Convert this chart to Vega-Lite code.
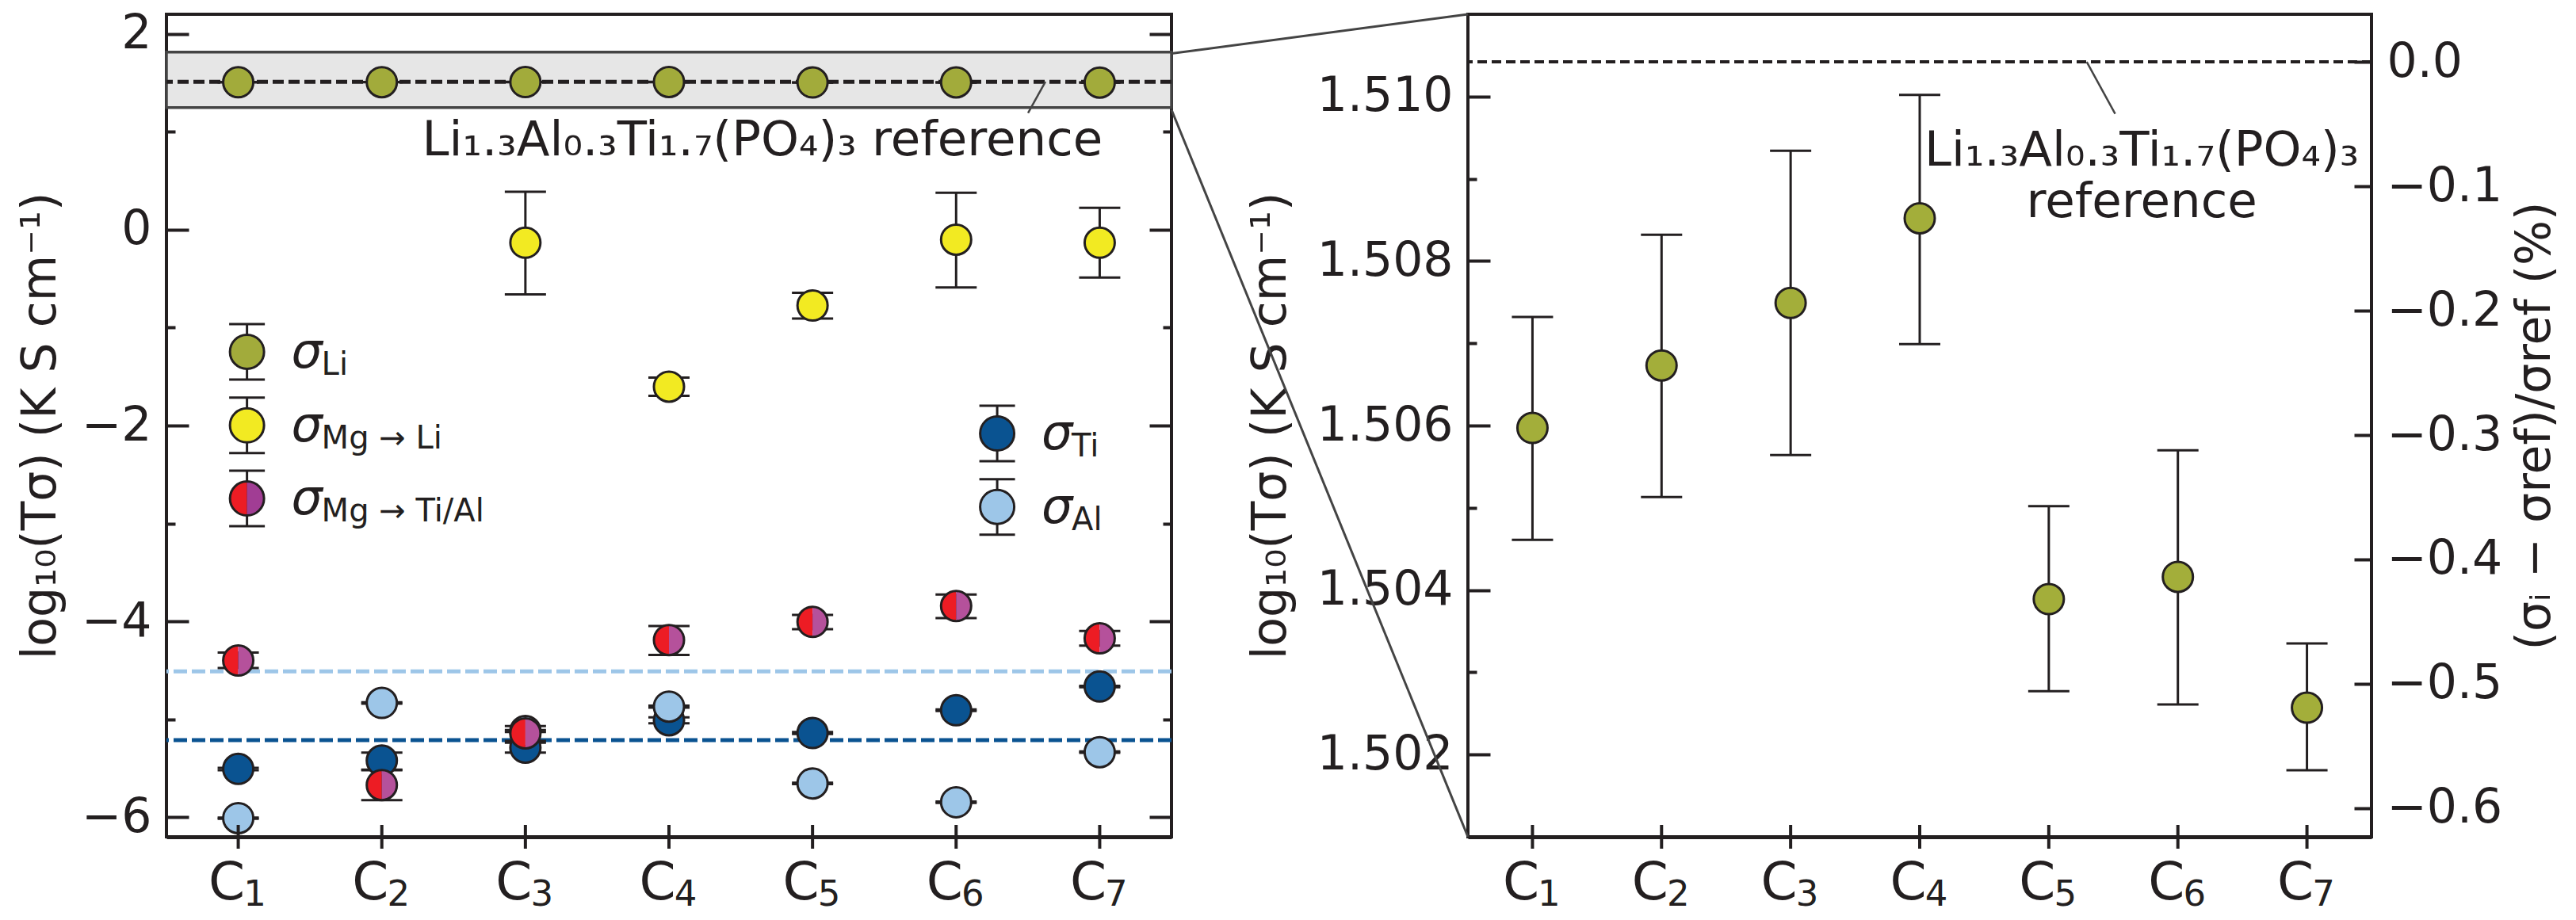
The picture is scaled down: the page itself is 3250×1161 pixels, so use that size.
{
  "$schema": "https://vega.github.io/schema/vega-lite/v6.json",
  "background": "white",
  "padding": {"left": 19, "top": 10, "right": 0, "bottom": 0},
  "spacing": 374,
  "bounds": "flush",
  "config": {
    "font": "DejaVu Sans",
    "view": {"stroke": "#231f20", "strokeWidth": 4},
    "axis": {"labelFont": "DejaVu Sans", "titleFont": "DejaVu Sans", "labelColor": "#231f20", "titleColor": "#231f20", "titleFontWeight": "normal", "grid": false},
    "text": {"font": "DejaVu Sans", "color": "#231f20"}
  },
  "datasets": {
    "main": [
      {"s": "Li", "c": 1, "v": 1.50597, "lo": 1.50461, "hi": 1.50732},
      {"s": "Li", "c": 2, "v": 1.50673, "lo": 1.50513, "hi": 1.50832},
      {"s": "Li", "c": 3, "v": 1.50749, "lo": 1.50564, "hi": 1.50934},
      {"s": "Li", "c": 4, "v": 1.50852, "lo": 1.50699, "hi": 1.51002},
      {"s": "Li", "c": 5, "v": 1.50389, "lo": 1.50277, "hi": 1.50502},
      {"s": "Li", "c": 6, "v": 1.50416, "lo": 1.50261, "hi": 1.5057},
      {"s": "Li", "c": 7, "v": 1.50257, "lo": 1.50181, "hi": 1.50335},
      {"s": "MgLi", "c": 3, "v": -0.133, "lo": -0.66, "hi": 0.387},
      {"s": "MgLi", "c": 4, "v": -1.603, "lo": -1.697, "hi": -1.511},
      {"s": "MgLi", "c": 5, "v": -0.774, "lo": -0.908, "hi": -0.645},
      {"s": "MgLi", "c": 6, "v": -0.102, "lo": -0.589, "hi": 0.378},
      {"s": "MgLi", "c": 7, "v": -0.133, "lo": -0.489, "hi": 0.223},
      {"s": "Ti", "c": 1, "v": -5.507, "lo": -5.52, "hi": -5.495},
      {"s": "Ti", "c": 2, "v": -5.422, "lo": -5.515, "hi": -5.34},
      {"s": "Ti", "c": 3, "v": -5.289, "lo": -5.34, "hi": -5.24},
      {"s": "Ti", "c": 4, "v": -5.01, "lo": -5.04, "hi": -4.98},
      {"s": "Ti", "c": 5, "v": -5.14, "lo": -5.15, "hi": -5.13},
      {"s": "Ti", "c": 6, "v": -4.908, "lo": -4.915, "hi": -4.9},
      {"s": "Ti", "c": 7, "v": -4.665, "lo": -4.672, "hi": -4.658},
      {"s": "Al", "c": 1, "v": -6.009, "lo": -6.015, "hi": -6.003},
      {"s": "Al", "c": 2, "v": -4.833, "lo": -4.84, "hi": -4.826},
      {"s": "Al", "c": 3, "v": -5.12, "lo": -5.13, "hi": -5.11},
      {"s": "Al", "c": 4, "v": -4.87, "lo": -4.88, "hi": -4.86},
      {"s": "Al", "c": 5, "v": -5.655, "lo": -5.662, "hi": -5.648},
      {"s": "Al", "c": 6, "v": -5.847, "lo": -5.854, "hi": -5.84},
      {"s": "Al", "c": 7, "v": -5.336, "lo": -5.343, "hi": -5.329},
      {"s": "MgTiAl", "c": 1, "v": -4.4, "lo": -4.477, "hi": -4.319},
      {"s": "MgTiAl", "c": 2, "v": -5.671, "lo": -5.826, "hi": -5.52},
      {"s": "MgTiAl", "c": 3, "v": -5.143, "lo": -5.22, "hi": -5.07},
      {"s": "MgTiAl", "c": 4, "v": -4.191, "lo": -4.343, "hi": -4.047},
      {"s": "MgTiAl", "c": 5, "v": -4.005, "lo": -4.08, "hi": -3.934},
      {"s": "MgTiAl", "c": 6, "v": -3.844, "lo": -3.966, "hi": -3.726},
      {"s": "MgTiAl", "c": 7, "v": -4.173, "lo": -4.247, "hi": -4.098}
    ],
    "band": [{"lo": 1.2475, "hi": 1.814, "ref": 1.5104}],
    "reflines": [{"s": "Al", "v": -4.51}, {"s": "Ti", "v": -5.213}],
    "legend": [
      {"s": "Li", "x": 1.061, "y": -1.247, "lo": -1.53, "hi": -0.964, "sub": "Li"},
      {"s": "MgLi", "x": 1.061, "y": -1.998, "lo": -2.281, "hi": -1.715, "sub": "Mg → Li"},
      {"s": "MgTiAl", "x": 1.061, "y": -2.745, "lo": -3.028, "hi": -2.462, "sub": "Mg → Ti/Al"},
      {"s": "Ti", "x": 6.286, "y": -2.081, "lo": -2.364, "hi": -1.798, "sub": "Ti"},
      {"s": "Al", "x": 6.286, "y": -2.831, "lo": -3.114, "hi": -2.548, "sub": "Al"}
    ],
    "annoL": [{"x": 4.651, "y": 0.7595, "label": "Li₁.₃Al₀.₃Ti₁.₇(PO₄)₃ reference", "x1": 6.501, "y1": 1.192, "x2": 6.622, "y2": 1.5104}],
    "annoR": [{"x": 5.72, "y": 1.509158, "label": "Li₁.₃Al₀.₃Ti₁.₇(PO₄)₃\nreference", "x1": 5.294, "y1": 1.51042, "x2": 5.514, "y2": 1.50979}],
    "zoomlines": [
      {"x": -1.7965, "y": 1.510523, "x2": 0.5, "y2": 1.511},
      {"x": -1.7965, "y": 1.509839, "x2": 0.5, "y2": 1.501}
    ],
    "pct": [{"p": 0}]
  },
  "hconcat": [
    {
      "width": 1268,
      "height": 1038,
      "resolve": {"scale": {"y": "independent"}},
      "layer": [
        {
          "layer": [
            {
              "data": {"name": "band"},
              "mark": {"type": "rect", "fill": "#e6e6e6", "stroke": "#444444", "strokeWidth": 3.5},
              "encoding": {
                "x": {"datum": 0.5, "type": "quantitative", "scale": {"domain": [0.5, 7.5], "nice": false, "zero": false},
                  "axis": {"values": [1, 2, 3, 4, 5, 6, 7], "labelExpr": "'C'", "labelOffset": -15, "title": null, "ticks": false, "domain": true, "domainWidth": 5, "domainColor": "#231f20", "labelFontSize": 66, "labelPadding": 78, "labelBaseline": "alphabetic", "labelFlush": false, "labelOverlap": false}},
                "x2": {"datum": 7.5},
                "y": {"field": "lo", "type": "quantitative", "scale": {"domain": [-6.2, 2.2], "nice": false, "zero": false},
                  "axis": {"orient": "left", "values": [2, 1, 0, -1, -2, -3, -4, -5, -6], "labelExpr": "datum.value % 2 == 0 ? format(datum.value, 'd') : ''", "tickSize": {"condition": {"test": "datum.value % 2 == 0", "value": -28}, "value": -11}, "tickWidth": 4, "tickColor": "#231f20", "labelPadding": 47, "labelFontSize": 60, "labelFlush": false, "labelOverlap": false, "title": "log₁₀(Tσ) (K S cm⁻¹)", "titleFontSize": 60, "titlePadding": 20, "domain": false}},
                "y2": {"field": "hi"}
              }
            },
            {
              "data": {"name": "band"},
              "mark": {"type": "rule", "stroke": "#231f20", "strokeWidth": 5, "strokeDash": [14, 6]},
              "encoding": {"y": {"field": "ref", "type": "quantitative"}}
            },
            {
              "data": {"name": "reflines"},
              "mark": {"type": "rule", "strokeWidth": 5, "strokeDash": [17, 6]},
              "encoding": {
                "y": {"field": "v", "type": "quantitative"},
                "color": {"field": "s", "type": "nominal", "legend": null, "scale": {"domain": ["Li", "MgLi", "MgTiAl", "Ti", "Al"], "range": ["#a2ab3b", "#f2ea22", "#ed1c24", "#0a5391", "#9dc6e8"]}}
              }
            },
            {
              "data": {"name": "main"},
              "mark": {"type": "rule", "stroke": "#231f20", "strokeWidth": 3},
              "encoding": {
                "x": {"field": "c", "type": "quantitative", "title": null},
                "y": {"field": "lo", "type": "quantitative"},
                "y2": {"field": "hi"}
              }
            },
            {
              "data": {"name": "main"},
              "mark": {"type": "tick", "orient": "horizontal", "size": 52, "thickness": 3, "color": "#231f20", "opacity": 1},
              "encoding": {
                "x": {"field": "c", "type": "quantitative", "title": null},
                "y": {"field": "lo", "type": "quantitative"}
              }
            },
            {
              "data": {"name": "main"},
              "mark": {"type": "tick", "orient": "horizontal", "size": 52, "thickness": 3, "color": "#231f20", "opacity": 1},
              "encoding": {
                "x": {"field": "c", "type": "quantitative", "title": null},
                "y": {"field": "hi", "type": "quantitative"}
              }
            },
            {
              "data": {"name": "main"},
              "transform": [{"filter": "datum.s != 'MgTiAl'"}],
              "mark": {"type": "point", "shape": "circle", "filled": true, "size": 1444, "stroke": "#231f20", "strokeWidth": 3, "opacity": 1},
              "encoding": {
                "x": {"field": "c", "type": "quantitative", "title": null},
                "y": {"field": "v", "type": "quantitative"},
                "color": {"field": "s", "type": "nominal", "legend": null}
              }
            },
            {
              "data": {"name": "main"},
              "transform": [{"filter": "datum.s == 'MgTiAl'"}],
              "mark": {"type": "point", "shape": "M0,-1A1,1,0,0,0,0,1Z", "filled": true, "fill": "#ed1c24", "size": 1444, "strokeWidth": 0, "opacity": 1},
              "encoding": {
                "x": {"field": "c", "type": "quantitative", "title": null},
                "y": {"field": "v", "type": "quantitative"}
              }
            },
            {
              "data": {"name": "main"},
              "transform": [{"filter": "datum.s == 'MgTiAl'"}],
              "mark": {"type": "point", "shape": "M0,-1A1,1,0,0,1,0,1Z", "filled": true, "fill": "#b5519b", "size": 1444, "strokeWidth": 0, "opacity": 1},
              "encoding": {
                "x": {"field": "c", "type": "quantitative", "title": null},
                "y": {"field": "v", "type": "quantitative"}
              }
            },
            {
              "data": {"name": "main"},
              "transform": [{"filter": "datum.s == 'MgTiAl'"}],
              "mark": {"type": "point", "shape": "circle", "filled": false, "stroke": "#231f20", "strokeWidth": 3, "size": 1444, "opacity": 1},
              "encoding": {
                "x": {"field": "c", "type": "quantitative", "title": null},
                "y": {"field": "v", "type": "quantitative"}
              }
            },
            {
              "data": {"name": "main"},
              "transform": [{"filter": "datum.s == 'Li'"}],
              "mark": {"type": "tick", "orient": "vertical", "size": 30, "thickness": 4, "color": "#231f20", "opacity": 1, "clip": false},
              "encoding": {
                "x": {"field": "c", "type": "quantitative", "title": null},
                "y": {"datum": -6.2, "type": "quantitative"}
              }
            },
            {
              "data": {"name": "main"},
              "transform": [{"filter": "datum.s == 'Li'"}],
              "mark": {"type": "text", "fontSize": 45, "align": "center", "baseline": "alphabetic", "dx": 21, "dy": 87, "color": "#231f20"},
              "encoding": {
                "x": {"field": "c", "type": "quantitative", "title": null},
                "y": {"datum": -6.2, "type": "quantitative"},
                "text": {"field": "c", "type": "nominal"}
              }
            },
            {
              "data": {"name": "legend"},
              "mark": {"type": "rule", "stroke": "#231f20", "strokeWidth": 3},
              "encoding": {
                "x": {"field": "x", "type": "quantitative", "title": null},
                "y": {"field": "lo", "type": "quantitative"},
                "y2": {"field": "hi"}
              }
            },
            {
              "data": {"name": "legend"},
              "mark": {"type": "tick", "orient": "horizontal", "size": 45, "thickness": 3, "color": "#231f20", "opacity": 1},
              "encoding": {
                "x": {"field": "x", "type": "quantitative", "title": null},
                "y": {"field": "lo", "type": "quantitative"}
              }
            },
            {
              "data": {"name": "legend"},
              "mark": {"type": "tick", "orient": "horizontal", "size": 45, "thickness": 3, "color": "#231f20", "opacity": 1},
              "encoding": {
                "x": {"field": "x", "type": "quantitative", "title": null},
                "y": {"field": "hi", "type": "quantitative"}
              }
            },
            {
              "data": {"name": "legend"},
              "transform": [{"filter": "datum.s != 'MgTiAl'"}],
              "mark": {"type": "point", "shape": "circle", "filled": true, "size": 1849, "stroke": "#231f20", "strokeWidth": 3, "opacity": 1},
              "encoding": {
                "x": {"field": "x", "type": "quantitative", "title": null},
                "y": {"field": "y", "type": "quantitative"},
                "color": {"field": "s", "type": "nominal", "legend": null}
              }
            },
            {
              "data": {"name": "legend"},
              "transform": [{"filter": "datum.s == 'MgTiAl'"}],
              "mark": {"type": "point", "shape": "M0,-1A1,1,0,0,0,0,1Z", "filled": true, "fill": "#ed1c24", "size": 1849, "strokeWidth": 0, "opacity": 1},
              "encoding": {
                "x": {"field": "x", "type": "quantitative", "title": null},
                "y": {"field": "y", "type": "quantitative"}
              }
            },
            {
              "data": {"name": "legend"},
              "transform": [{"filter": "datum.s == 'MgTiAl'"}],
              "mark": {"type": "point", "shape": "M0,-1A1,1,0,0,1,0,1Z", "filled": true, "fill": "#a13d94", "size": 1849, "strokeWidth": 0, "opacity": 1},
              "encoding": {
                "x": {"field": "x", "type": "quantitative", "title": null},
                "y": {"field": "y", "type": "quantitative"}
              }
            },
            {
              "data": {"name": "legend"},
              "transform": [{"filter": "datum.s == 'MgTiAl'"}],
              "mark": {"type": "point", "shape": "circle", "filled": false, "stroke": "#231f20", "strokeWidth": 3, "size": 1849, "opacity": 1},
              "encoding": {
                "x": {"field": "x", "type": "quantitative", "title": null},
                "y": {"field": "y", "type": "quantitative"}
              }
            },
            {
              "data": {"name": "legend"},
              "mark": {"type": "text", "text": "σ", "fontSize": 62, "fontStyle": "italic", "align": "left", "baseline": "alphabetic", "dx": 56, "dy": 20, "color": "#231f20"},
              "encoding": {
                "x": {"field": "x", "type": "quantitative", "title": null},
                "y": {"field": "y", "type": "quantitative"}
              }
            },
            {
              "data": {"name": "legend"},
              "mark": {"type": "text", "fontSize": 40, "align": "left", "baseline": "alphabetic", "dx": 94, "dy": 29, "color": "#231f20"},
              "encoding": {
                "x": {"field": "x", "type": "quantitative", "title": null},
                "y": {"field": "y", "type": "quantitative"},
                "text": {"field": "sub"}
              }
            },
            {
              "data": {"name": "annoL"},
              "mark": {"type": "rule", "stroke": "#444444", "strokeWidth": 2.5},
              "encoding": {
                "x": {"field": "x1", "type": "quantitative", "title": null},
                "y": {"field": "y1", "type": "quantitative"},
                "x2": {"field": "x2"},
                "y2": {"field": "y2"}
              }
            },
            {
              "data": {"name": "annoL"},
              "mark": {"type": "text", "fontSize": 61, "align": "center", "baseline": "alphabetic", "color": "#231f20"},
              "encoding": {
                "x": {"field": "x", "type": "quantitative", "title": null},
                "y": {"field": "y", "type": "quantitative"},
                "text": {"field": "label"}
              }
            }
          ]
        },
        {
          "data": {"name": "band"},
          "mark": {"type": "rule", "opacity": 0},
          "encoding": {
            "y": {"field": "ref", "type": "quantitative", "scale": {"domain": [-6.2, 2.2], "nice": false, "zero": false},
              "axis": {"orient": "right", "values": [2, 1, 0, -1, -2, -3, -4, -5, -6], "labels": false, "tickSize": {"condition": {"test": "datum.value % 2 == 0", "value": -28}, "value": -11}, "tickWidth": 4, "tickColor": "#231f20", "title": null, "domain": false}}
          }
        }
      ]
    },
    {
      "width": 1140,
      "height": 1038,
      "resolve": {"scale": {"y": "independent"}},
      "layer": [
        {
          "layer": [
            {
              "data": {"name": "main"},
              "transform": [{"filter": "datum.s == 'Li'"}],
              "mark": {"type": "rule", "stroke": "#231f20", "strokeWidth": 3},
              "encoding": {
                "x": {"field": "c", "type": "quantitative", "scale": {"domain": [0.5, 7.5], "nice": false, "zero": false},
                  "axis": {"values": [1, 2, 3, 4, 5, 6, 7], "labelExpr": "'C'", "labelOffset": -15, "title": null, "ticks": false, "domain": true, "domainWidth": 5, "domainColor": "#231f20", "labelFontSize": 66, "labelPadding": 78, "labelBaseline": "alphabetic", "labelFlush": false, "labelOverlap": false}},
                "y": {"field": "lo", "type": "quantitative", "scale": {"domain": [1.501, 1.511], "nice": false, "zero": false},
                  "axis": {"orient": "left", "values": [1.502, 1.503, 1.504, 1.505, 1.506, 1.507, 1.508, 1.509, 1.51], "labelExpr": "round(datum.value * 1000) % 2 == 0 ? format(datum.value, '.3f') : ''", "tickSize": {"condition": {"test": "round(datum.value * 1000) % 2 == 0", "value": -28}, "value": -11}, "tickWidth": 4, "tickColor": "#231f20", "labelPadding": 47, "labelFontSize": 60, "labelFlush": false, "labelOverlap": false, "title": "log₁₀(Tσ) (K S cm⁻¹)", "titleFontSize": 60, "titlePadding": 27, "domain": false}},
                "y2": {"field": "hi"}
              }
            },
            {
              "data": {"name": "main"},
              "transform": [{"filter": "datum.s == 'Li'"}],
              "mark": {"type": "tick", "orient": "horizontal", "size": 52, "thickness": 3, "color": "#231f20", "opacity": 1},
              "encoding": {
                "x": {"field": "c", "type": "quantitative", "title": null},
                "y": {"field": "lo", "type": "quantitative"}
              }
            },
            {
              "data": {"name": "main"},
              "transform": [{"filter": "datum.s == 'Li'"}],
              "mark": {"type": "tick", "orient": "horizontal", "size": 52, "thickness": 3, "color": "#231f20", "opacity": 1},
              "encoding": {
                "x": {"field": "c", "type": "quantitative", "title": null},
                "y": {"field": "hi", "type": "quantitative"}
              }
            },
            {
              "data": {"name": "main"},
              "transform": [{"filter": "datum.s == 'Li'"}],
              "mark": {"type": "point", "shape": "circle", "filled": true, "fill": "#a3ae3a", "size": 1444, "stroke": "#231f20", "strokeWidth": 3, "opacity": 1},
              "encoding": {
                "x": {"field": "c", "type": "quantitative", "title": null},
                "y": {"field": "v", "type": "quantitative"}
              }
            },
            {
              "data": {"name": "main"},
              "transform": [{"filter": "datum.s == 'Li'"}],
              "mark": {"type": "tick", "orient": "vertical", "size": 30, "thickness": 4, "color": "#231f20", "opacity": 1, "clip": false},
              "encoding": {
                "x": {"field": "c", "type": "quantitative", "title": null},
                "y": {"datum": 1.501, "type": "quantitative"}
              }
            },
            {
              "data": {"name": "main"},
              "transform": [{"filter": "datum.s == 'Li'"}],
              "mark": {"type": "text", "fontSize": 45, "align": "center", "baseline": "alphabetic", "dx": 21, "dy": 87, "color": "#231f20"},
              "encoding": {
                "x": {"field": "c", "type": "quantitative", "title": null},
                "y": {"datum": 1.501, "type": "quantitative"},
                "text": {"field": "c", "type": "nominal"}
              }
            },
            {
              "data": {"name": "annoR"},
              "mark": {"type": "rule", "stroke": "#444444", "strokeWidth": 2.5},
              "encoding": {
                "x": {"field": "x1", "type": "quantitative", "title": null},
                "y": {"field": "y1", "type": "quantitative"},
                "x2": {"field": "x2"},
                "y2": {"field": "y2"}
              }
            },
            {
              "data": {"name": "annoR"},
              "mark": {"type": "text", "fontSize": 61, "align": "center", "baseline": "alphabetic", "lineBreak": "\n", "lineHeight": 65, "color": "#231f20"},
              "encoding": {
                "x": {"field": "x", "type": "quantitative", "title": null},
                "y": {"field": "y", "type": "quantitative"},
                "text": {"field": "label"}
              }
            },
            {
              "data": {"name": "zoomlines"},
              "mark": {"type": "rule", "stroke": "#444444", "strokeWidth": 3, "clip": false},
              "encoding": {
                "x": {"field": "x", "type": "quantitative", "title": null},
                "y": {"field": "y", "type": "quantitative"},
                "x2": {"field": "x2"},
                "y2": {"field": "y2"}
              }
            }
          ]
        },
        {
          "data": {"name": "pct"},
          "mark": {"type": "rule", "stroke": "#231f20", "strokeWidth": 4, "strokeDash": [12, 6]},
          "encoding": {
            "y": {"field": "p", "type": "quantitative", "scale": {"domain": [-0.623, 0.0383], "nice": false, "zero": false},
              "axis": {"orient": "right", "values": [0, -0.1, -0.2, -0.3, -0.4, -0.5, -0.6], "format": ".1f", "tickSize": -22, "tickWidth": 4, "tickColor": "#231f20", "labelPadding": 41, "labelFontSize": 60, "labelFlush": false, "labelOverlap": false, "title": "(σᵢ − σref)/σref (%)", "titleFontSize": 60, "titleAngle": 270, "titleBaseline": "top", "titlePadding": 13, "domain": false}}
          }
        }
      ]
    }
  ]
}
